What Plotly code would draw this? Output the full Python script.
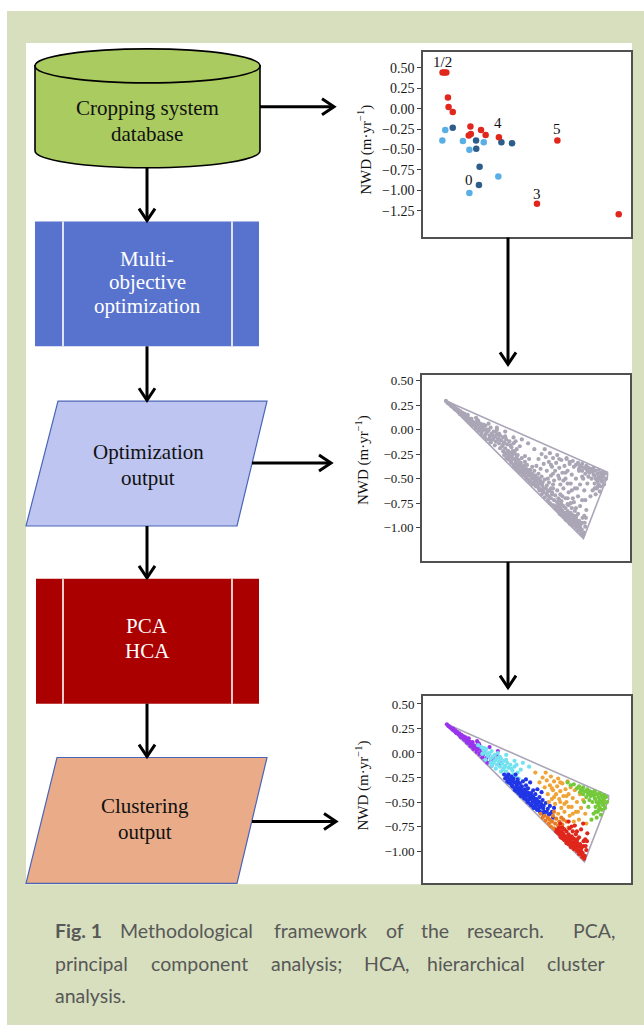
import plotly.graph_objects as go

W, H = 644, 1025

# ---------------- Chart 1: cropping system database ----------------
db_red_x = [0.94, 1.03, 1.12, 1.20, 1.23, 1.43, 2.28, 2.20, 2.30, 2.79, 3.01, 3.65, 6.46, 5.48, 9.41]
db_red_y = [0.443, 0.443, 0.443, 0.138, 0.020, -0.041, -0.220, -0.330, -0.310, -0.261, -0.322, -0.351, -0.391, -1.165, -1.295]
db_lblue_x = [0.93, 1.07, 1.92, 2.23, 2.92, 3.62, 2.23]
db_lblue_y = [-0.391, -0.261, -0.395, -0.505, -0.412, -0.831, -1.034]
db_dblue_x = [1.43, 2.55, 2.56, 2.72, 2.69, 3.77, 4.28]
db_dblue_y = [-0.233, -0.391, -0.493, -0.713, -0.937, -0.412, -0.424]
db_label_text = ["1/2", "4", "5", "3", "0"]
db_label_x = [0.95, 3.62, 6.44, 5.48, 2.23]
db_label_y = [0.57, -0.18, -0.25, -1.05, -0.87]
db_ticks = [0.50, 0.25, 0.00, -0.25, -0.50, -0.75, -1.00, -1.25]

# ---------------- Charts 2 & 3: optimization output / clusters ----------------
hull_x = [1.09, 8.92, 8.92, 7.76, 1.09]
hull_y = [0.30, -0.435, -0.475, -1.11, 0.30]
opt_ticks = [0.50, 0.25, 0.00, -0.25, -0.50, -0.75, -1.00]

purple_x = [1.15, 1.22, 1.30, 1.35, 1.42, 1.50, 1.55, 1.60, 1.66, 1.72, 1.78, 1.85, 1.90, 1.95, 2.00, 2.05,
            2.10, 2.15, 2.20, 2.25, 2.30, 2.35, 2.40, 2.45, 2.50, 2.55, 2.60, 2.68, 2.75, 2.80, 2.88, 2.95,
            3.05, 3.15, 3.25, 3.40, 3.55, 3.70, 2.20, 2.70,
            1.25, 1.40, 1.58, 1.70, 1.82, 1.98, 2.12, 2.28, 2.42, 2.58, 2.72, 2.85, 3.00, 3.10, 3.30,
            1.45, 1.75, 2.05, 2.38, 2.65, 2.60, 3.20, 3.60]
purple_y = [0.292, 0.275, 0.262, 0.255, 0.238, 0.225, 0.232, 0.205, 0.214, 0.190, 0.178, 0.185, 0.160, 0.170, 0.135, 0.150,
            0.118, 0.128, 0.100, 0.115, 0.082, 0.095, 0.060, 0.078, 0.045, 0.068, 0.030, 0.050, 0.000, 0.025, -0.020, 0.010,
            -0.050, -0.020, -0.090, -0.060, -0.020, -0.100, 0.150, 0.090,
            0.272, 0.245, 0.210, 0.195, 0.160, 0.140, 0.105, 0.070, 0.040, 0.010, -0.015, -0.045, -0.075, -0.100, -0.130,
            0.250, 0.200, 0.160, 0.110, 0.100, 0.120, 0.060, 0.020]
cyan_x = [2.65, 2.80, 2.90, 3.00, 3.05, 3.10, 3.20, 3.25, 3.30, 3.35, 3.40, 3.45, 3.50, 3.55, 3.60, 3.65, 3.70, 3.75,
          3.80, 3.85, 3.90, 3.95, 4.00, 4.05, 4.10, 4.15, 4.20, 4.30, 4.40, 4.45, 4.55, 3.30, 3.00, 4.70, 3.60,
          2.85, 2.95, 3.15, 3.25, 3.45, 3.50, 3.70, 3.75, 3.90, 4.00, 4.10, 4.25, 4.35, 4.50, 4.60,
          4.00, 4.40, 4.80, 5.10]
cyan_y = [0.080, 0.060, 0.030, 0.000, 0.040, -0.030, -0.010, -0.060, 0.020, -0.040, -0.100, -0.020, -0.070, -0.120, -0.050,
          -0.090, -0.140, -0.060, -0.110, -0.170, -0.080, -0.130, -0.190, -0.100, -0.150, -0.220, -0.120, -0.180, -0.140,
          -0.240, -0.200, -0.130, -0.070, -0.170, 0.000,
          -0.010, 0.050, 0.000, -0.100, -0.080, -0.160, -0.040, -0.190, -0.150, -0.070, -0.240, -0.160, -0.220, -0.120, -0.260,
          -0.020, -0.080, -0.100, -0.140]
blue_x = [3.90, 3.95, 4.00, 4.05, 4.10, 4.15, 4.20, 4.25, 4.30, 4.30, 4.35, 4.40, 4.45, 4.50, 4.50, 4.55, 4.60, 4.60,
          4.65, 4.70, 4.70, 4.75, 4.80, 4.80, 4.85, 4.90, 4.90, 4.95, 5.00, 5.00, 5.05, 5.10, 5.10, 5.15, 5.20, 5.20,
          5.25, 5.30, 5.30, 5.35, 5.40, 5.40, 5.45, 5.50, 5.50, 5.55, 5.60, 5.60, 5.65, 5.70, 5.75, 5.80, 5.85, 5.90,
          6.00, 6.05, 6.10, 6.20, 6.30, 4.45, 4.95, 5.70,
          4.05, 4.12, 4.22, 4.28, 4.38, 4.42, 4.52, 4.58, 4.62, 4.68, 4.72, 4.78, 4.82, 4.88, 4.92, 4.98, 5.02, 5.08,
          5.12, 5.18, 5.22, 5.28, 5.32, 5.38, 5.42, 5.48, 5.52, 5.58, 5.62, 5.68, 5.78, 5.82, 5.95, 6.12, 6.25]
blue_y = [-0.220, -0.260, -0.250, -0.290, -0.220, -0.270, -0.310, -0.240, -0.340, -0.280, -0.260, -0.360, -0.300, -0.330,
          -0.390, -0.270, -0.350, -0.410, -0.310, -0.380, -0.440, -0.340, -0.410, -0.290, -0.460, -0.370, -0.430, -0.330,
          -0.400, -0.480, -0.360, -0.440, -0.510, -0.300, -0.410, -0.470, -0.540, -0.380, -0.450, -0.500, -0.420, -0.560,
          -0.470, -0.520, -0.370, -0.580, -0.450, -0.500, -0.550, -0.610, -0.480, -0.540, -0.600, -0.510, -0.570, -0.630,
          -0.540, -0.600, -0.560, -0.220, -0.270, -0.400,
          -0.240, -0.300, -0.270, -0.330, -0.300, -0.380, -0.360, -0.300, -0.380, -0.420, -0.350, -0.440, -0.380, -0.410,
          -0.470, -0.440, -0.500, -0.410, -0.470, -0.530, -0.440, -0.500, -0.560, -0.470, -0.530, -0.580, -0.490, -0.550,
          -0.600, -0.520, -0.570, -0.630, -0.600, -0.620, -0.660]
orange_x = [5.60, 5.75, 5.85, 5.95, 6.00, 6.10, 6.15, 6.20, 6.25, 6.30, 6.35, 6.40, 6.45, 6.50, 6.55, 6.60, 6.65, 6.70,
            6.75, 6.80, 6.85, 6.90, 6.95, 7.00, 7.05, 7.10, 7.15, 7.20, 7.30, 7.35, 7.40, 7.50, 7.55, 7.60, 7.70, 7.80,
            7.85, 6.05, 6.50, 7.25,
            6.30, 6.60, 6.80, 7.00, 7.20, 7.45, 6.20, 6.90, 5.40, 5.90, 6.60]
orange_y = [-0.300, -0.250, -0.350, -0.280, -0.420, -0.330, -0.240, -0.470, -0.380, -0.290, -0.520, -0.420, -0.340, -0.260,
            -0.470, -0.390, -0.560, -0.310, -0.440, -0.600, -0.370, -0.500, -0.290, -0.420, -0.640, -0.350, -0.550, -0.460,
            -0.380, -0.600, -0.500, -0.680, -0.420, -0.560, -0.480, -0.620, -0.720, -0.500, -0.620, -0.700,
            -0.450, -0.500, -0.520, -0.550, -0.620, -0.600, -0.360, -0.440, -0.200, -0.200, -0.300]
dorange_x = [5.65, 5.75, 5.85, 5.90, 6.00, 6.05, 6.10, 6.15, 6.20, 6.25, 6.30, 6.35, 6.40, 6.45, 6.50, 6.55, 6.60, 6.65,
             6.70, 6.75, 6.30, 6.90, 7.00]
dorange_y = [-0.620, -0.660, -0.640, -0.690, -0.660, -0.720, -0.680, -0.750, -0.700, -0.640, -0.770, -0.720, -0.670, -0.790,
             -0.740, -0.700, -0.780, -0.660, -0.730, -0.680, -0.600, -0.700, -0.760]
red_x = [6.40, 6.50, 6.55, 6.60, 6.65, 6.70, 6.70, 6.75, 6.80, 6.80, 6.85, 6.90, 6.90, 6.95, 7.00, 7.00, 7.05, 7.10,
         7.10, 7.15, 7.20, 7.20, 7.25, 7.30, 7.30, 7.35, 7.40, 7.40, 7.45, 7.50, 7.50, 7.55, 7.60, 7.60, 7.65, 7.70,
         7.70, 7.75, 7.80, 7.85, 7.90, 7.00, 7.30, 6.60,
         6.45, 6.58, 6.62, 6.72, 6.78, 6.88, 6.98, 7.02, 7.08, 7.12, 7.18, 7.22, 7.28, 7.32, 7.38, 7.42, 7.48, 7.52,
         7.58, 7.62, 7.68, 7.72, 7.78, 7.82, 7.88, 7.40, 7.15]
red_y = [-0.800, -0.820, -0.760, -0.840, -0.800, -0.870, -0.760, -0.830, -0.890, -0.780, -0.850, -0.920, -0.800, -0.870,
         -0.830, -0.930, -0.770, -0.900, -0.960, -0.850, -0.920, -0.800, -0.980, -0.880, -0.940, -0.830, -1.000, -0.910,
         -0.960, -0.860, -1.030, -0.930, -1.000, -0.780, -1.060, -0.950, -0.720, -1.080, -0.880, -0.990, -0.820, -0.700,
         -0.740, -0.720,
         -0.780, -0.800, -0.860, -0.820, -0.860, -0.880, -0.900, -0.860, -0.930, -0.880, -0.950, -0.870, -0.910, -0.970,
         -0.930, -0.880, -0.990, -0.950, -1.030, -0.970, -1.020, -0.900, -1.050, -0.950, -0.900, -0.800, -0.750]
green_x = [6.95, 7.10, 7.25, 7.40, 7.50, 7.55, 7.60, 7.70, 7.70, 7.80, 7.85, 7.90, 7.95, 8.00, 8.00, 8.05, 8.10, 8.15,
           8.20, 8.25, 8.30, 8.30, 8.35, 8.40, 8.40, 8.45, 8.50, 8.50, 8.55, 8.55, 8.60, 8.60, 8.65, 8.70, 8.70, 8.75,
           8.80, 8.85, 8.20, 7.95, 8.10, 7.75, 8.35,
           8.15, 8.25, 8.35, 8.45, 8.50, 8.60, 8.65, 8.45, 8.30, 8.70, 7.65, 7.90]
green_y = [-0.300, -0.330, -0.320, -0.360, -0.340, -0.400, -0.370, -0.350, -0.420, -0.390, -0.450, -0.370, -0.420, -0.390,
           -0.480, -0.440, -0.400, -0.500, -0.430, -0.390, -0.470, -0.550, -0.420, -0.510, -0.600, -0.450, -0.560, -0.410,
           -0.500, -0.630, -0.440, -0.580, -0.530, -0.430, -0.480, -0.560, -0.450, -0.500, -0.620, -0.550, -0.680, -0.500,
           -0.660,
           -0.420, -0.460, -0.500, -0.530, -0.480, -0.500, -0.460, -0.580, -0.600, -0.520, -0.380, -0.400]

clusters = [
    ("purple", purple_x, purple_y, "#9a34ec"),
    ("cyan", cyan_x, cyan_y, "#72e2f0"),
    ("blue", blue_x, blue_y, "#2036e6"),
    ("orange", orange_x, orange_y, "#f0a435"),
    ("darkorange", dorange_x, dorange_y, "#ea7b22"),
    ("red", red_x, red_y, "#e0261b"),
    ("green", green_x, green_y, "#74c93a"),
]

# ---------------- Flowchart texts ----------------
cyl_lines = ["Cropping system", "database"]
moo_lines = ["Multi-", "objective", "optimization"]
opt_lines = ["Optimization", "output"]
pca_lines = ["PCA", "HCA"]
clu_lines = ["Clustering", "output"]

caption_words = [
    ("<b>Fig. 1</b>", 53, 930), ("Methodological", 118, 930), ("framework", 272, 930), ("of", 384, 930),
    ("the", 419, 930), ("research.", 465, 930), ("PCA,", 571, 930),
    ("principal", 53, 963), ("component", 149, 963), ("analysis;", 269, 963), ("HCA,", 362, 963),
    ("hierarchical", 425, 963), ("cluster", 545, 963),
    ("analysis.", 53, 995),
]

SERIF = "Liberation Serif"

fig = go.Figure()

# chart 1 traces
for xs, ys, col in [(db_lblue_x, db_lblue_y, "#5aaee6"), (db_dblue_x, db_dblue_y, "#2d5d8b"),
                    (db_red_x, db_red_y, "#e1261c")]:
    fig.add_trace(go.Scatter(x=xs, y=ys, mode="markers", xaxis="x", yaxis="y",
                             marker=dict(size=6.5, color=col, line=dict(width=0)), showlegend=False))

# chart 2 traces (all solutions gray)
fig.add_trace(go.Scatter(x=hull_x, y=hull_y, mode="lines", xaxis="x2", yaxis="y2",
                         line=dict(color="#aaa6b8", width=1.6), showlegend=False))
all_x = sum([c[1] for c in clusters], [])
all_y = sum([c[2] for c in clusters], [])
fig.add_trace(go.Scatter(x=all_x, y=all_y, mode="markers", xaxis="x2", yaxis="y2",
                         marker=dict(size=4.2, color="#aba6b6", line=dict(width=0)), showlegend=False))

# chart 3 traces (clusters)
fig.add_trace(go.Scatter(x=hull_x, y=hull_y, mode="lines", xaxis="x3", yaxis="y3",
                         line=dict(color="#aaa6b8", width=1.6), showlegend=False))
for name, xs, ys, col in clusters:
    fig.add_trace(go.Scatter(x=xs, y=ys, mode="markers", xaxis="x3", yaxis="y3", name=name,
                             marker=dict(size=4.2, color=col, line=dict(width=0)), showlegend=False))


def dom_x(a, b):
    return [a / W, b / W]


def dom_y(top, bottom):
    return [1 - bottom / H, 1 - top / H]


frame = dict(showline=True, mirror=True, linecolor="#505050", linewidth=1.6,
             showgrid=False, zeroline=False)
xcommon = dict(range=[0, 10], showticklabels=False, ticks="", **frame)


def ycommon(rng, ticks, fs):
    return dict(range=rng, tickvals=ticks, tickformat=".2f", ticks="outside", ticklen=4,
                tickcolor="#404040", tickwidth=1.2,
                tickfont=dict(family=SERIF, size=fs, color="#1a1a1a"), **frame)


fig.update_layout(
    width=W, height=H, autosize=False,
    margin=dict(l=0, r=0, t=0, b=0),
    paper_bgcolor="white", plot_bgcolor="rgba(0,0,0,0)",
    xaxis=dict(domain=dom_x(423, 631), anchor="y", **xcommon),
    yaxis=dict(domain=dom_y(50, 235), anchor="x", **ycommon([-1.568, 0.696], db_ticks, 14)),
    xaxis2=dict(domain=dom_x(422, 630), anchor="y2", **xcommon),
    yaxis2=dict(domain=dom_y(374, 560), anchor="x2", **ycommon([-1.339, 0.554], opt_ticks, 13)),
    xaxis3=dict(domain=dom_x(423, 631), anchor="y3", **xcommon),
    yaxis3=dict(domain=dom_y(695, 883), anchor="x3", **ycommon([-1.329, 0.585], opt_ticks, 13)),
    xaxis4=dict(domain=[0, 1], range=[0, W], visible=False, anchor="y4", fixedrange=True),
    yaxis4=dict(domain=[0, 1], range=[H, 0], visible=False, anchor="x4", fixedrange=True),
)

shapes = []


def prect(x0, y0, x1, y1, fill):
    shapes.append(dict(type="rect", xref="paper", yref="paper", x0=x0 / W, x1=x1 / W,
                       y0=1 - y1 / H, y1=1 - y0 / H, fillcolor=fill, line=dict(width=0), layer="below"))


prect(7, 9, 644, 1025, "#d7dfbe")
prect(26, 41, 632, 884, "white")

K = 0.5523


def pix_path(path, fill=None, color="black", width=1.5):
    d = dict(type="path", xref="x4", yref="y4", path=path, line=dict(color=color, width=width))
    d["fillcolor"] = fill if fill else "rgba(0,0,0,0)"
    shapes.append(d)


# cylinder
L, R, cx, rx, ry, yt, yb = 35, 260, 147.5, 112.5, 17, 64, 149
body = (f"M {L},{yt} L {L},{yb} C {L},{yb + K * ry} {cx - K * rx},{yb + ry} {cx},{yb + ry} "
        f"C {cx + K * rx},{yb + ry} {R},{yb + K * ry} {R},{yb} L {R},{yt} Z")
pix_path(body, fill="#a9cb5f", width=1.6)
ell = (f"M {L},{yt} C {L},{yt - K * ry} {cx - K * rx},{yt - ry} {cx},{yt - ry} "
       f"C {cx + K * rx},{yt - ry} {R},{yt - K * ry} {R},{yt} "
       f"C {R},{yt + K * ry} {cx + K * rx},{yt + ry} {cx},{yt + ry} "
       f"C {cx - K * rx},{yt + ry} {L},{yt + K * ry} {L},{yt} Z")
pix_path(ell, fill="#a9cb5f", width=1.6)


def process_box(x0, y0, x1, y1, fill):
    shapes.append(dict(type="rect", xref="x4", yref="y4", x0=x0, x1=x1, y0=y0, y1=y1,
                       fillcolor=fill, line=dict(width=0)))
    for xv in (63, 232):
        shapes.append(dict(type="line", xref="x4", yref="y4", x0=xv, x1=xv, y0=y0, y1=y1,
                           line=dict(color="white", width=1.6)))


process_box(35, 220, 259, 345, "#5873cd")
process_box(36, 578, 259, 703, "#aa0000")

pix_path("M 58,400 L 267,400 L 237,525 L 26,525 Z", fill="#bdc5f0", color="#4a64b8", width=1.2)
pix_path("M 57,757 L 267,757 L 237,883 L 26,883 Z", fill="#e9ab88", color="#4a64b8", width=1.2)


def arrow(x0, y0, x1, y1):
    pix_path(f"M {x0},{y0} L {x1},{y1}", width=3)
    if y0 == y1:
        pix_path(f"M {x1 - 12},{y1 - 8} L {x1},{y1} L {x1 - 12},{y1 + 8}", width=3)
    else:
        pix_path(f"M {x1 - 8},{y1 - 12} L {x1},{y1} L {x1 + 8},{y1 - 12}", width=3)


arrow(260, 105, 334, 105)
arrow(147, 166, 147, 219)
arrow(147, 345, 147, 399)
arrow(252, 462, 331, 462)
arrow(147, 525, 147, 577)
arrow(147, 703, 147, 756)
arrow(252, 821, 336, 821)
arrow(508, 236, 508, 363)
arrow(508, 561, 508, 687)

fig.update_layout(shapes=shapes)

ann = []


def ptext(txt, x, y, size=21, color="#111111", family=SERIF, xanchor="center", angle=0):
    ann.append(dict(text=txt, x=x, y=y, xref="x4", yref="y4", showarrow=False, xanchor=xanchor,
                    yanchor="middle", textangle=angle, font=dict(family=family, size=size, color=color)))


for i, t in enumerate(cyl_lines):
    ptext(t, 147, 106 + 26 * i)
for i, t in enumerate(moo_lines):
    ptext(t, 147, 257 + 24 * i, color="white")
for i, t in enumerate(opt_lines):
    ptext(t, 148, 451 + 26 * i)
for i, t in enumerate(pca_lines):
    ptext(t, 147, 625 + 25 * i, color="white")
for i, t in enumerate(clu_lines):
    ptext(t, 145, 806 + 26 * i)

ylab = "NWD (m·yr<sup>−1</sup>)"
ptext(ylab, 365, 148, size=15, angle=-90)
ptext(ylab, 362, 459, size=15, angle=-90)
ptext(ylab, 362, 785, size=15, angle=-90)

for t, x, y in caption_words:
    ptext(t, x, y, size=19.5, color="#585858", family="Lato", xanchor="left")

for t, x, y in zip(db_label_text, db_label_x, db_label_y):
    ann.append(dict(text=t, x=x, y=y, xref="x", yref="y", showarrow=False,
                    font=dict(family=SERIF, size=15, color="#111111")))

fig.update_layout(annotations=ann)

fig.write_html("out.html", config={"displayModeBar": False},
               post_script="document.body.style.margin='0px';document.body.style.overflow='hidden';")
